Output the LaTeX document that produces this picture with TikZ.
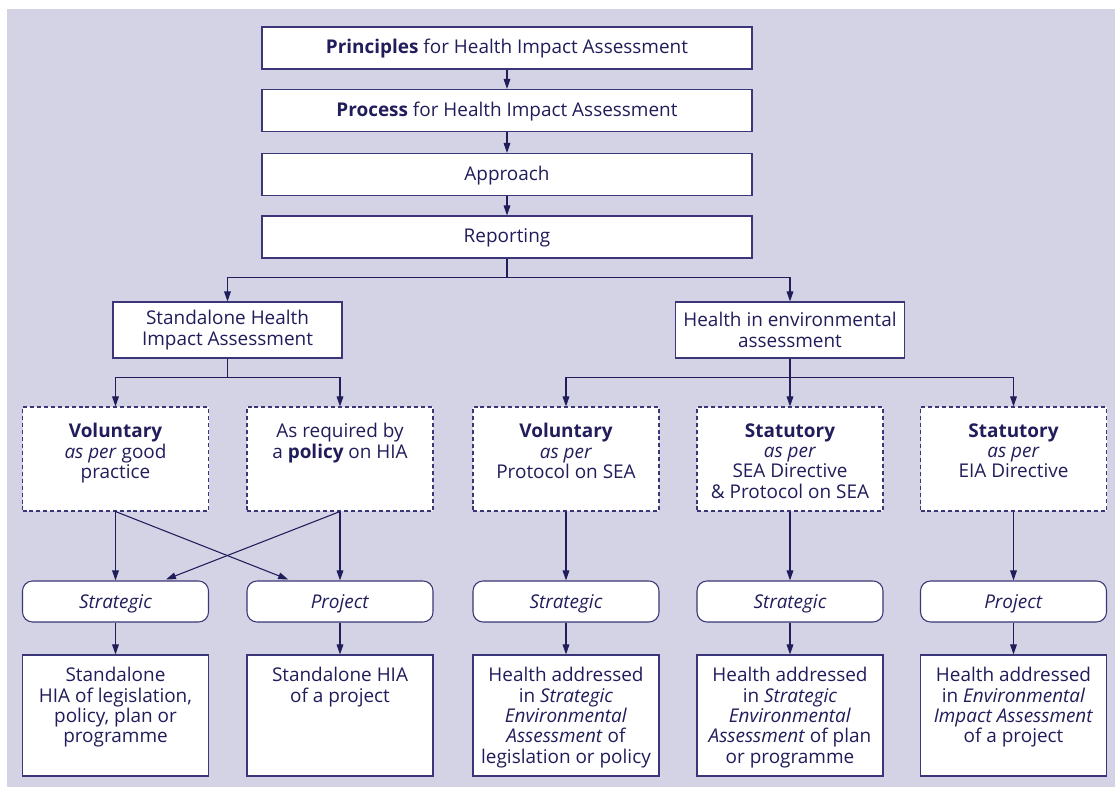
\documentclass[tikz,border=0pt]{standalone}
\usepackage{fontspec}
\setmainfont{Open Sans}
\usepackage{xcolor}
\definecolor{cBack}{HTML}{D3D3E5}
\definecolor{cLine}{HTML}{3A3677}
\definecolor{cInk}{HTML}{201D5A}
\usepackage{tikz}
\usetikzlibrary{positioning,arrows.meta,calc}
\tikzset{
  node-box/.style={draw=cLine,fill=white,line width=0.8pt,text=cInk,
    align=center,font=\fontsize{14.2}{15.3}\selectfont,inner sep=0pt},
  node-wide/.style={node-box,minimum width=367.5pt,minimum height=31.5pt,
    text height=12pt,text depth=3.4pt},
  node-mid/.style={node-box,minimum width=171.75pt,minimum height=42pt},
  node-rule/.style={node-box,dash pattern=on 3pt off 2.2pt,
    minimum width=139.5pt,minimum height=78pt},
  node-kind/.style={node-box,rounded corners=7.5pt,
    minimum width=139.5pt,minimum height=30.75pt,
    text height=13.5pt,text depth=3.4pt},
  node-out/.style={node-box,minimum width=139.5pt,minimum height=90.75pt},
  % text that hangs from the top edge of a tall box
  in-text/.style={anchor=north,inner sep=0pt,yshift=#1,align=center,
    text=cInk,font=\fontsize{14.2}{15.3}\selectfont},
  in-text/.default={-12.5pt},
  arrow/.style={-{Triangle[length=7.5pt,width=5pt]},line width=0.8pt,draw=cInk},
}

\begin{document}
\begin{tikzpicture}[x=0.75pt,y=-0.75pt]
  \useasboundingbox (0,0) rectangle (1115,787);
  \fill[cBack] (7,9) rectangle (1115,787);

  \node[node-wide] (princ) at (507,48) {\textbf{Principles} for Health Impact Assessment};
  \node[node-wide] (proc) at (507,110.5) {\textbf{Process} for Health Impact Assessment};
  \node[node-wide] (appr) at (507,174.5) {Approach};
  \node[node-wide] (rep) at (507,237) {Reporting};

  \node[node-mid] (shia) at (227.5,330) {Standalone Health\\Impact Assessment};
  \node[node-mid] (hea) at (790,330) {Health in environmental\\assessment};

  % basis
  \node[node-rule,label={[in-text]north:{\textbf{Voluntary}\\\textit{as per} good\\practice}}]
    (volgood) at (115.5,459) {};
  \node[node-rule,label={[in-text]north:{As required by\\a \textbf{policy} on HIA}}]
    (asreq) at (340,459) {};
  \node[node-rule,label={[in-text]north:{\textbf{Voluntary}\\\textit{as per}\\Protocol on SEA}}]
    (volsea) at (566,459) {};
  \node[node-rule,label={[in-text]north:{\textbf{Statutory}\\\textit{as per}\\SEA Directive\\\& Protocol on SEA}}]
    (statsea) at (790,459) {};
  \node[node-rule,label={[in-text]north:{\textbf{Statutory}\\\textit{as per}\\EIA Directive}}]
    (stateia) at (1013.5,459) {};

  % level
  \node[node-kind] (strat1) at (115.5,601.5) {\textit{Strategic}};
  \node[node-kind] (proj1) at (340,601.5) {\textit{Project}};
  \node[node-kind] (strat2) at (566,601.5) {\textit{Strategic}};
  \node[node-kind] (strat3) at (790,601.5) {\textit{Strategic}};
  \node[node-kind] (proj2) at (1013.5,601.5) {\textit{Project}};

  % outcome
  \node[node-out,label={[in-text=-9.5pt]north:{Standalone\\HIA of legislation,\\policy, plan or\\programme}}]
    (out1) at (115.5,715.5) {};
  \node[node-out,label={[in-text=-9.5pt]north:{Standalone HIA\\of a project}}]
    (out2) at (340,715.5) {};
  \node[node-out,label={[in-text=-9.5pt]north:{Health addressed\\in \textit{Strategic}\\\textit{Environmental}\\\textit{Assessment} of\\legislation or policy}}]
    (out3) at (566,715.5) {};
  \node[node-out,label={[in-text=-9.5pt]north:{Health addressed\\in \textit{Strategic}\\\textit{Environmental}\\\textit{Assessment} of plan\\or programme}}]
    (out4) at (790,715.5) {};
  \node[node-out,label={[in-text=-9.5pt]north:{Health addressed\\in \textit{Environmental}\\\textit{Impact Assessment}\\of a project}}]
    (out5) at (1013.5,715.5) {};

  \draw[arrow] (princ) -- (proc);
  \draw[arrow] (proc) -- (appr);
  \draw[arrow] (appr) -- (rep);
  \draw[arrow] (rep.south) -- ++(0,19) -| (shia.north);
  \draw[arrow] (rep.south) -- ++(0,19) -| (hea.north);
  \draw[arrow] (shia.south) -- ++(0,19) -| (volgood.north);
  \draw[arrow] (shia.south) -- ++(0,19) -| (asreq.north);
  \draw[arrow] (hea.south) -- ++(0,19) -| (volsea.north);
  \draw[arrow] (hea.south) -- (statsea.north);
  \draw[arrow] (hea.south) -- ++(0,19) -| (stateia.north);

  \draw[arrow] (volgood) -- (strat1);
  \draw[arrow] (asreq) -- (proj1);
  \draw[arrow,shorten >=2pt] (volgood.south) -- ([xshift=-37pt]proj1.north);
  \draw[arrow,shorten >=2pt] (asreq.south) -- ([xshift=36pt]strat1.north);
  \draw[arrow] (volsea) -- (strat2);
  \draw[arrow] (statsea) -- (strat3);
  \draw[arrow] (stateia) -- (proj2);

  \draw[arrow] (strat1) -- (out1);
  \draw[arrow] (proj1) -- (out2);
  \draw[arrow] (strat2) -- (out3);
  \draw[arrow] (strat3) -- (out4);
  \draw[arrow] (proj2) -- (out5);
\end{tikzpicture}
\end{document}
